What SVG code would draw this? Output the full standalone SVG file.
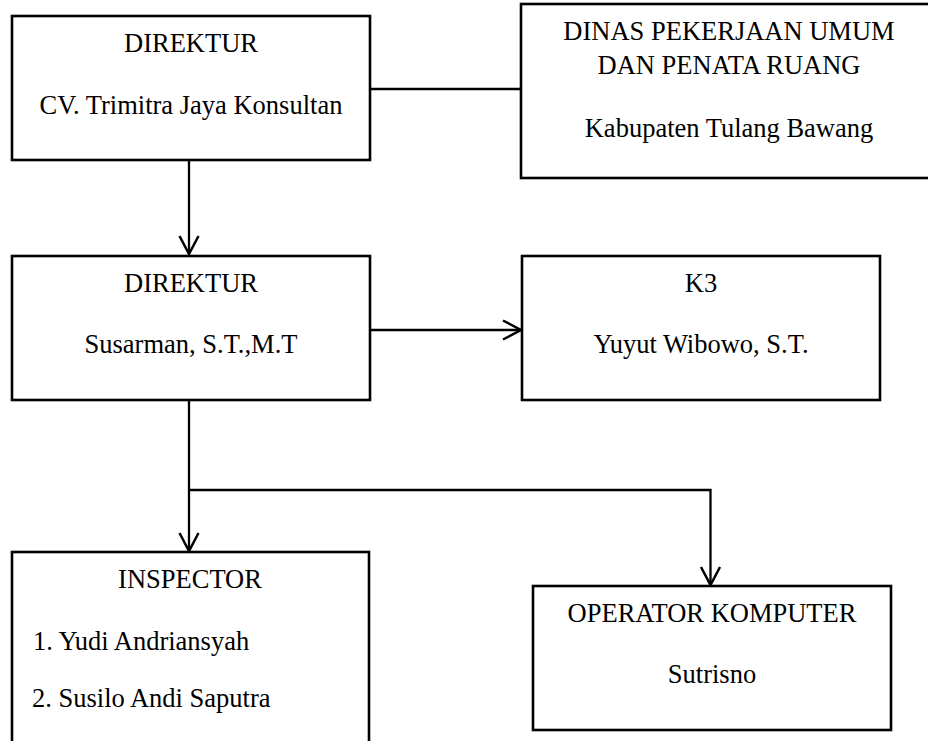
<svg xmlns="http://www.w3.org/2000/svg" width="928" height="741" viewBox="0 0 928 741">
<style>
.box{fill:#fff;stroke:#000;stroke-width:2.6}
.t{font-family:"Liberation Serif","Times New Roman",serif;font-size:26.5px;fill:#000}
.c{text-anchor:middle}
.conn{fill:none;stroke:#000;stroke-width:2.3}
</style>
<defs>
<marker id="arr" markerUnits="userSpaceOnUse" viewBox="-20 -12 22 24" refX="0" refY="0" markerWidth="22" markerHeight="24" orient="auto" overflow="visible">
<path d="M-18,-9.5 L0,0 L-18,9.5" fill="none" stroke="#000" stroke-width="2.5"/>
</marker>
</defs>
<rect width="928" height="741" fill="#fff"/>
<g id="connectors">
<line class="conn" x1="370" y1="89" x2="521" y2="89"/>
<line class="conn" x1="189" y1="160" x2="189" y2="254" marker-end="url(#arr)"/>
<line class="conn" x1="370" y1="330" x2="521" y2="330" marker-end="url(#arr)"/>
<line class="conn" x1="189" y1="400" x2="189" y2="551" marker-end="url(#arr)"/>
<polyline class="conn" points="189,490 710.5,490 710.5,585" marker-end="url(#arr)"/>
</g>
<g id="direktur-cv">
<rect class="box" x="12" y="16" width="358" height="144"/>
<text class="t c" x="191" y="52">DIREKTUR</text>
<text class="t c" x="191" y="114">CV. Trimitra Jaya Konsultan</text>
</g>
<g id="dinas">
<rect class="box" x="521" y="4" width="420" height="174"/>
<text class="t c" x="729" y="40">DINAS PEKERJAAN UMUM</text>
<text class="t c" x="729" y="74">DAN PENATA RUANG</text>
<text class="t c" x="729" y="137">Kabupaten Tulang Bawang</text>
</g>
<g id="direktur">
<rect class="box" x="12" y="256" width="358" height="144"/>
<text class="t c" x="191" y="292">DIREKTUR</text>
<text class="t c" x="191" y="353">Susarman, S.T.,M.T</text>
</g>
<g id="k3">
<rect class="box" x="522" y="256" width="358" height="144"/>
<text class="t c" x="701" y="292">K3</text>
<text class="t c" x="701" y="353">Yuyut Wibowo, S.T.</text>
</g>
<g id="inspector">
<rect class="box" x="12" y="552" width="357" height="200"/>
<text class="t c" x="190" y="588">INSPECTOR</text>
<text class="t" x="33" y="650">1. Yudi Andriansyah</text>
<text class="t" x="32" y="707">2. Susilo Andi Saputra</text>
</g>
<g id="operator">
<rect class="box" x="533" y="586" width="358" height="144"/>
<text class="t c" x="712" y="622">OPERATOR KOMPUTER</text>
<text class="t c" x="712" y="683">Sutrisno</text>
</g>
</svg>
